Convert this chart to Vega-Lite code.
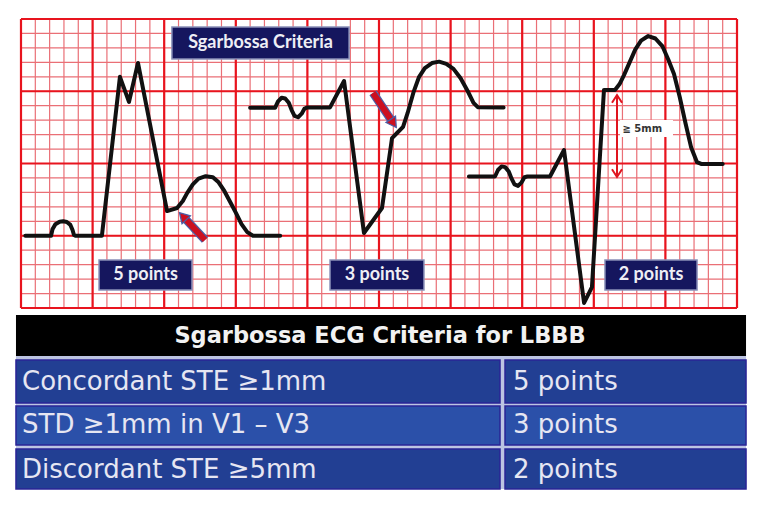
{
  "$schema": "https://vega.github.io/schema/vega-lite/v6.json",
  "width": 764,
  "height": 522,
  "padding": 0,
  "autosize": {"type": "fit", "contains": "padding"},
  "background": "white",
  "config": {"view": {"stroke": null}},
  "datasets": {
    "gridx": [{"v":0},{"v":1},{"v":2},{"v":3},{"v":4},{"v":5},{"v":6},{"v":7},{"v":8},{"v":9},{"v":10},{"v":11},{"v":12},{"v":13},{"v":14},{"v":15},{"v":16},{"v":17},{"v":18},{"v":19},{"v":20},{"v":21},{"v":22},{"v":23},{"v":24},{"v":25},{"v":26},{"v":27},{"v":28},{"v":29},{"v":30},{"v":31},{"v":32},{"v":33},{"v":34},{"v":35},{"v":36},{"v":37},{"v":38},{"v":39},{"v":40},{"v":41},{"v":42},{"v":43},{"v":44},{"v":45},{"v":46},{"v":47},{"v":48},{"v":49},{"v":50}],
    "gridy": [{"v":0},{"v":1},{"v":2},{"v":3},{"v":4},{"v":5},{"v":6},{"v":7},{"v":8},{"v":9},{"v":10},{"v":11},{"v":12},{"v":13},{"v":14},{"v":15},{"v":16},{"v":17},{"v":18},{"v":19},{"v":20}],
    "majorx": [{"v":0},{"v":5},{"v":10},{"v":15},{"v":20},{"v":25},{"v":30},{"v":35},{"v":40},{"v":45},{"v":50}],
    "majory": [{"v":0},{"v":5},{"v":10},{"v":15},{"v":20}],
    "waves": [
      {"w":"a","x":0.3,"y":5},{"w":"a","x":2.1,"y":5},{"w":"a","x":2.2,"y":5.45},{"w":"a","x":2.4,"y":5.8},{"w":"a","x":2.7,"y":5.97},{"w":"a","x":2.95,"y":6.0},{"w":"a","x":3.2,"y":5.95},{"w":"a","x":3.45,"y":5.75},{"w":"a","x":3.6,"y":5.4},{"w":"a","x":3.7,"y":5.05},{"w":"a","x":3.8,"y":5},{"w":"a","x":5.65,"y":5},{"w":"a","x":6.91,"y":16.0},{"w":"a","x":7.54,"y":14.26},{"w":"a","x":8.17,"y":16.96},{"w":"a","x":10.2,"y":6.71},{"w":"a","x":10.9,"y":6.92},{"w":"a","x":11.3,"y":7.4},{"w":"a","x":11.6,"y":7.95},{"w":"a","x":12.0,"y":8.55},{"w":"a","x":12.4,"y":8.95},{"w":"a","x":12.9,"y":9.12},{"w":"a","x":13.4,"y":9.05},{"w":"a","x":13.8,"y":8.7},{"w":"a","x":14.2,"y":8.1},{"w":"a","x":14.6,"y":7.35},{"w":"a","x":15.0,"y":6.6},{"w":"a","x":15.4,"y":5.8},{"w":"a","x":15.8,"y":5.25},{"w":"a","x":16.2,"y":5},{"w":"a","x":18.1,"y":5},
      {"w":"b","x":16.0,"y":13.85},{"w":"b","x":17.74,"y":13.85},{"w":"b","x":17.95,"y":14.3},{"w":"b","x":18.2,"y":14.55},{"w":"b","x":18.45,"y":14.5},{"w":"b","x":18.7,"y":14.2},{"w":"b","x":18.9,"y":13.7},{"w":"b","x":19.1,"y":13.3},{"w":"b","x":19.35,"y":13.2},{"w":"b","x":19.6,"y":13.45},{"w":"b","x":19.8,"y":13.8},{"w":"b","x":20.0,"y":13.88},{"w":"b","x":21.58,"y":13.88},{"w":"b","x":22.56,"y":15.71},{"w":"b","x":23.95,"y":5.19},{"w":"b","x":25.21,"y":6.92},{"w":"b","x":25.91,"y":11.76},{"w":"b","x":26.26,"y":12.11},{"w":"b","x":26.68,"y":12.53},{"w":"b","x":27.0,"y":13.5},{"w":"b","x":27.4,"y":14.9},{"w":"b","x":27.8,"y":16.0},{"w":"b","x":28.2,"y":16.6},{"w":"b","x":28.7,"y":16.95},{"w":"b","x":29.2,"y":17.05},{"w":"b","x":29.7,"y":16.9},{"w":"b","x":30.2,"y":16.55},{"w":"b","x":30.7,"y":15.9},{"w":"b","x":31.2,"y":15.0},{"w":"b","x":31.6,"y":14.2},{"w":"b","x":31.9,"y":13.9},{"w":"b","x":33.7,"y":13.88},
      {"w":"c","x":31.28,"y":9.1},{"w":"c","x":33.1,"y":9.1},{"w":"c","x":33.31,"y":9.55},{"w":"c","x":33.56,"y":9.8},{"w":"c","x":33.81,"y":9.75},{"w":"c","x":34.06,"y":9.45},{"w":"c","x":34.26,"y":8.95},{"w":"c","x":34.46,"y":8.55},{"w":"c","x":34.71,"y":8.45},{"w":"c","x":34.96,"y":8.7},{"w":"c","x":35.16,"y":9.05},{"w":"c","x":35.36,"y":9.1},{"w":"c","x":36.94,"y":9.1},{"w":"c","x":37.92,"y":10.93},{"w":"c","x":39.32,"y":0.35},{"w":"c","x":39.87,"y":1.45},{"w":"c","x":40.71,"y":15.09},{"w":"c","x":41.48,"y":15.09},{"w":"c","x":41.8,"y":15.5},{"w":"c","x":42.1,"y":16.1},{"w":"c","x":42.5,"y":17.0},{"w":"c","x":42.9,"y":17.9},{"w":"c","x":43.3,"y":18.5},{"w":"c","x":43.8,"y":18.82},{"w":"c","x":44.3,"y":18.65},{"w":"c","x":44.8,"y":18.1},{"w":"c","x":45.2,"y":17.2},{"w":"c","x":45.6,"y":16.2},{"w":"c","x":46.0,"y":14.6},{"w":"c","x":46.4,"y":12.8},{"w":"c","x":46.8,"y":11.1},{"w":"c","x":47.2,"y":10.1},{"w":"c","x":47.5,"y":9.97},{"w":"c","x":49.0,"y":9.97}
    ],
    "chevrons": [
      {"g":"top","x":41.27,"y":14.2},{"g":"top","x":41.62,"y":14.74},{"g":"top","x":41.97,"y":14.2},
      {"g":"bottom","x":41.27,"y":9.6},{"g":"bottom","x":41.62,"y":9.07},{"g":"bottom","x":41.97,"y":9.6}
    ],
    "shafts": [
      {"x":12.85,"y":4.71,"x2":11.38,"y2":6.27},
      {"x":24.58,"y":14.88,"x2":25.95,"y2":12.87}
    ],
    "boxes": [
      {"x":10.54,"x2":22.91,"y":19.45,"y2":17.23},
      {"x":5.45,"x2":11.94,"y":3.32,"y2":1.25},
      {"x":21.58,"x2":28.14,"y":3.32,"y2":1.25},
      {"x":40.78,"x2":47.21,"y":3.32,"y2":1.25}
    ],
    "boxlabels": [
      {"x":16.73,"y":18.34,"t":"Sgarbossa Criteria"},
      {"x":8.7,"y":2.28,"t":"5 points"},
      {"x":24.86,"y":2.28,"t":"3 points"},
      {"x":44.0,"y":2.28,"t":"2 points"}
    ],
    "cells": [
      {"x":-0.35,"x2":33.45,"y":-3.6,"y2":-6.57,"band":"dark"},
      {"x":33.8,"x2":50.63,"y":-3.6,"y2":-6.57,"band":"dark"},
      {"x":-0.35,"x2":33.45,"y":-6.78,"y2":-9.48,"band":"light"},
      {"x":33.8,"x2":50.63,"y":-6.78,"y2":-9.48,"band":"light"},
      {"x":-0.35,"x2":33.45,"y":-9.76,"y2":-12.53,"band":"dark"},
      {"x":33.8,"x2":50.63,"y":-9.76,"y2":-12.53,"band":"dark"}
    ],
    "rows": [
      {"y":-5.15,"crit":"Concordant STE ≥1mm","pts":"5 points"},
      {"y":-8.13,"crit":"STD ≥1mm in V1 – V3","pts":"3 points"},
      {"y":-11.2,"crit":"Discordant STE ≥5mm","pts":"2 points"}
    ]
  },
  "layer": [
    {
      "data": {"name": "gridx"},
      "mark": {"type": "rule", "color": "#ea6f76", "strokeWidth": 1.2},
      "encoding": {
        "x": {"field": "v", "type": "quantitative", "axis": null, "scale": {"domain": [-1.466, 51.885], "nice": false}},
        "y": {"datum": 0, "type": "quantitative", "axis": null, "scale": {"domain": [-14.81, 21.315], "nice": false}},
        "y2": {"datum": 20}
      }
    },
    {
      "data": {"name": "gridy"},
      "mark": {"type": "rule", "color": "#ea6f76", "strokeWidth": 1.2},
      "encoding": {
        "y": {"field": "v", "type": "quantitative", "axis": null, "scale": {"domain": [-14.81, 21.315], "nice": false}},
        "x": {"datum": 0, "type": "quantitative", "axis": null, "scale": {"domain": [-1.466, 51.885], "nice": false}},
        "x2": {"datum": 50}
      }
    },
    {
      "data": {"name": "majorx"},
      "mark": {"type": "rule", "color": "#e8141e", "strokeWidth": 2.2},
      "encoding": {
        "x": {"field": "v", "type": "quantitative", "axis": null, "scale": {"domain": [-1.466, 51.885], "nice": false}},
        "y": {"datum": 0, "type": "quantitative", "axis": null, "scale": {"domain": [-14.81, 21.315], "nice": false}},
        "y2": {"datum": 20}
      }
    },
    {
      "data": {"name": "majory"},
      "mark": {"type": "rule", "color": "#e8141e", "strokeWidth": 2.2},
      "encoding": {
        "y": {"field": "v", "type": "quantitative", "axis": null, "scale": {"domain": [-14.81, 21.315], "nice": false}},
        "x": {"datum": 0, "type": "quantitative", "axis": null, "scale": {"domain": [-1.466, 51.885], "nice": false}},
        "x2": {"datum": 50}
      }
    },
    {
      "data": {"name": "waves"},
      "mark": {"type": "line", "color": "#111111", "strokeWidth": 4, "strokeJoin": "round", "strokeCap": "round"},
      "encoding": {
        "x": {"field": "x", "type": "quantitative", "axis": null, "scale": {"domain": [-1.466, 51.885], "nice": false}},
        "y": {"field": "y", "type": "quantitative", "axis": null, "scale": {"domain": [-14.81, 21.315], "nice": false}},
        "detail": {"field": "w"}
      }
    },
    {
      "data": {"values": [{"x": 41.62, "y": 14.7, "y2": 9.1}]},
      "mark": {"type": "rule", "color": "#e0141e", "strokeWidth": 2},
      "encoding": {
        "x": {"field": "x", "type": "quantitative", "axis": null, "scale": {"domain": [-1.466, 51.885], "nice": false}},
        "y": {"field": "y", "type": "quantitative", "axis": null, "scale": {"domain": [-14.81, 21.315], "nice": false}},
        "y2": {"field": "y2"}
      }
    },
    {
      "data": {"name": "chevrons"},
      "mark": {"type": "line", "color": "#e0141e", "strokeWidth": 2},
      "encoding": {
        "x": {"field": "x", "type": "quantitative", "axis": null, "scale": {"domain": [-1.466, 51.885], "nice": false}},
        "y": {"field": "y", "type": "quantitative", "axis": null, "scale": {"domain": [-14.81, 21.315], "nice": false}},
        "detail": {"field": "g"}
      }
    },
    {
      "data": {"values": [{"x": 41.83, "x2": 45.53, "y": 13.01, "y2": 11.83}]},
      "mark": {"type": "rect", "color": "white"},
      "encoding": {
        "x": {"field": "x", "type": "quantitative", "axis": null, "scale": {"domain": [-1.466, 51.885], "nice": false}},
        "x2": {"field": "x2"},
        "y": {"field": "y", "type": "quantitative", "axis": null, "scale": {"domain": [-14.81, 21.315], "nice": false}},
        "y2": {"field": "y2"}
      }
    },
    {
      "data": {"values": [{"x": 42.0, "y": 12.42, "t": "≧ 5mm"}]},
      "mark": {"type": "text", "align": "left", "baseline": "middle", "font": "DejaVu Sans", "fontSize": 10, "fontWeight": "bold", "color": "#333333"},
      "encoding": {
        "x": {"field": "x", "type": "quantitative", "axis": null, "scale": {"domain": [-1.466, 51.885], "nice": false}},
        "y": {"field": "y", "type": "quantitative", "axis": null, "scale": {"domain": [-14.81, 21.315], "nice": false}},
        "text": {"field": "t"}
      }
    },
    {
      "data": {"name": "shafts"},
      "mark": {"type": "rule", "color": "#4a5fa8", "strokeWidth": 8.5, "strokeCap": "butt"},
      "encoding": {
        "x": {"field": "x", "type": "quantitative", "axis": null, "scale": {"domain": [-1.466, 51.885], "nice": false}},
        "x2": {"field": "x2"},
        "y": {"field": "y", "type": "quantitative", "axis": null, "scale": {"domain": [-14.81, 21.315], "nice": false}},
        "y2": {"field": "y2"}
      }
    },
    {
      "data": {"name": "shafts"},
      "mark": {"type": "rule", "color": "#cc1020", "strokeWidth": 6, "strokeCap": "butt"},
      "encoding": {
        "x": {"field": "x", "type": "quantitative", "axis": null, "scale": {"domain": [-1.466, 51.885], "nice": false}},
        "x2": {"field": "x2"},
        "y": {"field": "y", "type": "quantitative", "axis": null, "scale": {"domain": [-14.81, 21.315], "nice": false}},
        "y2": {"field": "y2"}
      }
    },
    {
      "data": {"values": [{"x": 11.38, "y": 6.27}]},
      "mark": {"type": "point", "shape": "triangle", "angle": 317, "size": 130, "filled": true, "fill": "#cc1020", "stroke": "#4a5fa8", "strokeWidth": 1.3, "opacity": 1},
      "encoding": {
        "x": {"field": "x", "type": "quantitative", "axis": null, "scale": {"domain": [-1.466, 51.885], "nice": false}},
        "y": {"field": "y", "type": "quantitative", "axis": null, "scale": {"domain": [-14.81, 21.315], "nice": false}}
      }
    },
    {
      "data": {"values": [{"x": 25.95, "y": 12.87}]},
      "mark": {"type": "point", "shape": "triangle", "angle": 146, "size": 130, "filled": true, "fill": "#cc1020", "stroke": "#4a5fa8", "strokeWidth": 1.3, "opacity": 1},
      "encoding": {
        "x": {"field": "x", "type": "quantitative", "axis": null, "scale": {"domain": [-1.466, 51.885], "nice": false}},
        "y": {"field": "y", "type": "quantitative", "axis": null, "scale": {"domain": [-14.81, 21.315], "nice": false}}
      }
    },
    {
      "data": {"name": "boxes"},
      "mark": {"type": "rect", "fill": "#15165e", "stroke": "#8a90b8", "strokeWidth": 1.5},
      "encoding": {
        "x": {"field": "x", "type": "quantitative", "axis": null, "scale": {"domain": [-1.466, 51.885], "nice": false}},
        "x2": {"field": "x2"},
        "y": {"field": "y", "type": "quantitative", "axis": null, "scale": {"domain": [-14.81, 21.315], "nice": false}},
        "y2": {"field": "y2"}
      }
    },
    {
      "data": {"name": "boxlabels"},
      "mark": {"type": "text", "align": "center", "baseline": "middle", "font": "Lato", "fontSize": 18, "fontWeight": "bold", "color": "#eeeef5"},
      "encoding": {
        "x": {"field": "x", "type": "quantitative", "axis": null, "scale": {"domain": [-1.466, 51.885], "nice": false}},
        "y": {"field": "y", "type": "quantitative", "axis": null, "scale": {"domain": [-14.81, 21.315], "nice": false}},
        "text": {"field": "t"}
      }
    },
    {
      "data": {"values": [{"x": -0.35, "x2": 50.63, "y": -0.48, "y2": -3.32}]},
      "mark": {"type": "rect", "color": "#000000"},
      "encoding": {
        "x": {"field": "x", "type": "quantitative", "axis": null, "scale": {"domain": [-1.466, 51.885], "nice": false}},
        "x2": {"field": "x2"},
        "y": {"field": "y", "type": "quantitative", "axis": null, "scale": {"domain": [-14.81, 21.315], "nice": false}},
        "y2": {"field": "y2"}
      }
    },
    {
      "data": {"values": [{"x": -0.35, "x2": 50.63, "y": -3.32, "y2": -12.53}]},
      "mark": {"type": "rect", "color": "#bcc4e2"},
      "encoding": {
        "x": {"field": "x", "type": "quantitative", "axis": null, "scale": {"domain": [-1.466, 51.885], "nice": false}},
        "x2": {"field": "x2"},
        "y": {"field": "y", "type": "quantitative", "axis": null, "scale": {"domain": [-14.81, 21.315], "nice": false}},
        "y2": {"field": "y2"}
      }
    },
    {
      "data": {"name": "cells"},
      "mark": {"type": "rect", "stroke": "#2a2496", "strokeWidth": 1.5},
      "encoding": {
        "x": {"field": "x", "type": "quantitative", "axis": null, "scale": {"domain": [-1.466, 51.885], "nice": false}},
        "x2": {"field": "x2"},
        "y": {"field": "y", "type": "quantitative", "axis": null, "scale": {"domain": [-14.81, 21.315], "nice": false}},
        "y2": {"field": "y2"},
        "fill": {"field": "band", "type": "nominal", "legend": null, "scale": {"domain": ["dark", "light"], "range": ["#223f93", "#2b50a9"]}}
      }
    },
    {
      "data": {"values": [{"x": 25.07, "y": -1.95, "t": "Sgarbossa ECG Criteria for LBBB"}]},
      "mark": {"type": "text", "align": "center", "baseline": "middle", "font": "DejaVu Sans", "fontSize": 22.5, "fontWeight": "bold", "color": "#f2f2f2"},
      "encoding": {
        "x": {"field": "x", "type": "quantitative", "axis": null, "scale": {"domain": [-1.466, 51.885], "nice": false}},
        "y": {"field": "y", "type": "quantitative", "axis": null, "scale": {"domain": [-14.81, 21.315], "nice": false}},
        "text": {"field": "t"}
      }
    },
    {
      "data": {"name": "rows"},
      "mark": {"type": "text", "align": "left", "baseline": "middle", "font": "DejaVu Sans", "fontSize": 26, "color": "#e6e6f2"},
      "encoding": {
        "x": {"datum": 0.07, "type": "quantitative", "axis": null, "scale": {"domain": [-1.466, 51.885], "nice": false}},
        "y": {"field": "y", "type": "quantitative", "axis": null, "scale": {"domain": [-14.81, 21.315], "nice": false}},
        "text": {"field": "crit"}
      }
    },
    {
      "data": {"name": "rows"},
      "mark": {"type": "text", "align": "left", "baseline": "middle", "font": "DejaVu Sans", "fontSize": 26, "color": "#e6e6f2"},
      "encoding": {
        "x": {"datum": 34.36, "type": "quantitative", "axis": null, "scale": {"domain": [-1.466, 51.885], "nice": false}},
        "y": {"field": "y", "type": "quantitative", "axis": null, "scale": {"domain": [-14.81, 21.315], "nice": false}},
        "text": {"field": "pts"}
      }
    }
  ]
}
